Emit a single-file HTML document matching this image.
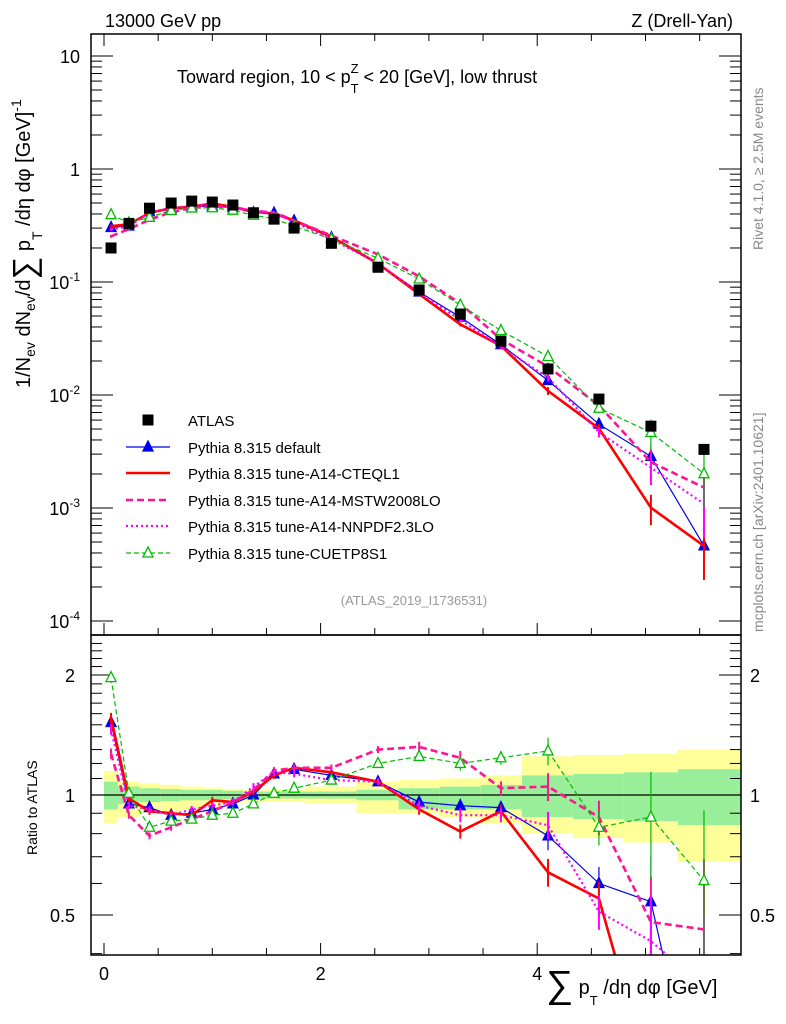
<!DOCTYPE html>
<html><head><meta charset="utf-8"><style>
html,body{margin:0;background:#fff;overflow:hidden;width:786px;height:1024px}
svg{display:block;overflow:hidden;font-family:"Liberation Sans",sans-serif}
</style></head><body>
<svg id="c" width="786" height="1024" viewBox="0 0 786 1024" overflow="hidden">
<defs>
<clipPath id="cm"><rect x="91" y="34" width="650" height="601"/></clipPath>
<clipPath id="cr"><rect x="91" y="635" width="650" height="320"/></clipPath>
</defs>
<g id="bands" clip-path="url(#cr)"></g>
<g id="grid"></g>
<g id="mainSeries" clip-path="url(#cm)"></g>
<g id="ratioSeries" clip-path="url(#cr)"></g>
<rect x="91" y="34" width="650" height="601" fill="none" stroke="#000" stroke-width="1.5"/>
<rect x="91" y="635" width="650" height="320" fill="none" stroke="#000" stroke-width="1.5"/>
<text x="105" y="27" font-size="18">13000 GeV pp</text>
<text x="733" y="27" font-size="18" text-anchor="end">Z (Drell-Yan)</text>
<text x="177" y="83" font-size="18">Toward region, 10 &lt; p<tspan font-size="13" dy="10">T</tspan><tspan font-size="13" dx="-8" dy="-20">Z</tspan><tspan dy="10"> &lt; 20 [GeV], low thrust</tspan></text>
<text x="414" y="605" font-size="13" fill="#999" text-anchor="middle">(ATLAS_2019_I1736531)</text>
<text transform="translate(763,250) rotate(-90)" font-size="14" fill="#888">Rivet 4.1.0, ≥ 2.5M events</text>
<text transform="translate(763,632) rotate(-90)" font-size="14" fill="#888">mcplots.cern.ch [arXiv:2401.10621]</text>
<text transform="translate(30,388) rotate(-90)" font-size="20">1/N<tspan font-size="14" dy="5">ev</tspan><tspan dy="-5"> dN</tspan><tspan font-size="14" dy="5">ev</tspan><tspan dy="-5">/d</tspan><tspan font-size="32" dy="5">∑</tspan><tspan dy="-5"> p</tspan><tspan font-size="14" dy="12">T</tspan><tspan dy="-12"> /dη dφ  [GeV]</tspan><tspan font-size="14" dy="-9">-1</tspan></text>
<text transform="translate(37,855) rotate(-90)" font-size="14">Ratio to ATLAS</text>
<text x="546" y="994" font-size="20"><tspan font-size="38" dy="3">∑</tspan><tspan dy="-3"> p</tspan><tspan font-size="13" dy="11">T</tspan><tspan dy="-11"> /dη dφ [GeV]</tspan></text>
<g id="legend"></g>
</svg>
<script>
const xVals=[0.065,0.23,0.42,0.62,0.81,1.0,1.19,1.38,1.57,1.755,2.1,2.53,2.91,3.29,3.665,4.1,4.57,5.05,5.54];
const binEdges=[0,0.13,0.33,0.52,0.71,0.9,1.1,1.29,1.48,1.67,1.86,2.33,2.72,3.1,3.48,3.86,4.33,4.8,5.3,5.88];
const atlas=[0.2,0.33,0.45,0.5,0.52,0.51,0.48,0.41,0.36,0.30,0.22,0.135,0.085,0.052,0.03,0.017,0.0092,0.0053,0.0033];
const statUp=[0.08,0.05,0.04,0.035,0.03,0.03,0.025,0.02,0.02,0.02,0.02,0.03,0.04,0.05,0.06,0.12,0.13,0.14,0.16];
const statDn=[0.08,0.05,0.04,0.035,0.03,0.03,0.025,0.02,0.02,0.02,0.02,0.03,0.08,0.08,0.08,0.12,0.13,0.14,0.16];
const totUp=[0.15,0.08,0.07,0.06,0.05,0.04,0.035,0.03,0.03,0.03,0.05,0.08,0.09,0.10,0.12,0.25,0.26,0.27,0.30];
const totDn=[0.15,0.12,0.1,0.09,0.08,0.07,0.05,0.04,0.04,0.04,0.05,0.1,0.1,0.12,0.15,0.2,0.22,0.24,0.32];
const rDefault=[1.52,0.95,0.93,0.89,0.90,0.92,0.95,1.0,1.13,1.16,1.12,1.08,0.96,0.94,0.93,0.79,0.60,0.54,0.14];
const rCTEQ=[1.56,0.98,0.91,0.90,0.89,0.97,0.96,1.02,1.12,1.17,1.14,1.08,0.92,0.81,0.91,0.64,0.55,0.19,0.14];
const rMSTW=[1.27,0.89,0.79,0.83,0.87,0.91,0.96,1.03,1.15,1.17,1.17,1.30,1.32,1.24,1.04,1.05,0.88,0.48,0.46];
const rNNPDF=[1.46,0.94,0.92,0.89,0.92,0.94,0.96,1.05,1.14,1.13,1.09,1.08,0.94,0.89,0.89,0.84,0.51,0.43,0.33];
const rCUETP=[1.97,1.01,0.83,0.86,0.87,0.89,0.90,0.95,1.01,1.04,1.09,1.20,1.25,1.20,1.24,1.29,0.83,0.88,0.61];
const relErr=[0.03,0.02,0.02,0.02,0.02,0.02,0.02,0.02,0.02,0.02,0.02,0.02,0.03,0.04,0.04,0.08,0.1,0.3,0.5];
const NS="http://www.w3.org/2000/svg";
const X=v=>104+108.3*v;
const YM=v=>169-113*Math.log10(v);
const YR=r=>795-120*Math.log2(r);
const cl=(y,a,b)=>Math.max(a,Math.min(b,y));
function mk(tag,attrs,parent){const e=document.createElementNS(NS,tag);for(const k in attrs)e.setAttribute(k,attrs[k]);parent.appendChild(e);return e;}
// clip polyline points to y<=ymax, returns array of point strings
function clipPts(pts,ymax){
 const out=[];
 for(let i=0;i<pts.length;i++){
  const [x,y]=pts[i];
  if(y<=ymax){
   if(i>0&&pts[i-1][1]>ymax){const [px,py]=pts[i-1];const t=(py-ymax)/(py-y);out.push([px+(x-px)*t,ymax]);}
   out.push([x,y]);
  }else if(i>0&&pts[i-1][1]<=ymax){
   const [px,py]=pts[i-1];const t=(ymax-py)/(y-py);out.push([px+(x-px)*t,ymax]);
   break;
  }
 }
 return out.map(p=>p[0].toFixed(1)+','+p[1].toFixed(1)).join(' ');
}
const g=document.getElementById('grid'),bands=document.getElementById('bands'),ms=document.getElementById('mainSeries'),rs=document.getElementById('ratioSeries'),lg=document.getElementById('legend');
for(let i=0;i<atlas.length;i++){
 const x0=X(binEdges[i]),x1=X(binEdges[i+1]);
 let r=mk('rect',{x:x0,y:YR(1+totUp[i]),width:x1-x0,height:YR(1-totDn[i])-YR(1+totUp[i]),fill:'#ffff99'},bands);
 
 
 r=mk('rect',{x:x0,y:YR(1+statUp[i]),width:x1-x0,height:YR(1-statDn[i])-YR(1+statUp[i]),fill:'#99ee99'},bands);
 
 
}
mk('line',{x1:91,x2:741,y1:YR(1),y2:YR(1),stroke:'#000','stroke-width':1.2},bands);
for(let v=0;v<=5.85;v+=0.5){
 const big=Math.abs(v%2)<1e-6;const L=big?12:7;
 for(const yb of [635,955]){mk('line',{x1:X(v),x2:X(v),y1:yb,y2:yb-L,stroke:'#000'},g);}
 mk('line',{x1:X(v),x2:X(v),y1:34,y2:34+L,stroke:'#000'},g);
 if(big){const t=mk('text',{x:X(v),y:980,'font-size':18,'text-anchor':'middle'},g);t.textContent=v;
 
 }
}
const decLabels=['10<tspan font-size="12" dy="-8">-4</tspan>','10<tspan font-size="12" dy="-8">-3</tspan>','10<tspan font-size="12" dy="-8">-2</tspan>','10<tspan font-size="12" dy="-8">-1</tspan>','1','10'];
for(let d=-4;d<=1;d++){
 for(let m=1;m<10;m++){const v=m*Math.pow(10,d);const y=YM(v);if(y<34||y>635)continue;const L=m==1?22:11;
  mk('line',{x1:91,x2:91+L,y1:y,y2:y,stroke:'#000'},g);mk('line',{x1:741,x2:741-L,y1:y,y2:y,stroke:'#000'},g);}
 const t=mk('text',{x:80,y:YM(Math.pow(10,d))+7,'font-size':18,'text-anchor':'end'},g);t.innerHTML=decLabels[d+4];
 
 
}
for(let r=0.4;r<=2.5;r+=0.1){const y=YR(r);if(y<635||y>955)continue;const big=[0.5,1,2].some(q=>Math.abs(q-r)<1e-6);const L=big?22:11;
 mk('line',{x1:91,x2:91+L,y1:y,y2:y,stroke:'#000'},g);mk('line',{x1:741,x2:741-L,y1:y,y2:y,stroke:'#000'},g);}
for(const r of [0.5,1,2]){
 let t=mk('text',{x:75,y:YR(r)+7,'font-size':18,'text-anchor':'end'},g);t.textContent=r;
 
 
 t=mk('text',{x:750,y:YR(r)+7,'font-size':18},g);t.textContent=r;
 
 
}
const series=[
 {name:'Pythia 8.315 default',r:rDefault,c:'#0000ee',w:1.2,dash:'',mark:'tri-fill'},
 {name:'Pythia 8.315 tune-A14-CTEQL1',r:rCTEQ,c:'#ff0000',w:2.6,dash:'',mark:'none'},
 {name:'Pythia 8.315 tune-A14-MSTW2008LO',r:rMSTW,c:'#ff1493',w:2.6,dash:'7,4',mark:'none'},
 {name:'Pythia 8.315 tune-A14-NNPDF2.3LO',r:rNNPDF,c:'#ff00ff',w:2.2,dash:'2,3',mark:'none'},
 {name:'Pythia 8.315 tune-CUETP8S1',r:rCUETP,c:'#00bb00',w:1.2,dash:'5,3',mark:'tri-open'}
];
function tri(par,x,y,c,fill){return mk('path',{d:`M${x-5},${y+4}L${x+5},${y+4}L${x},${y-6}Z`,fill:fill?c:'#fff',stroke:c,'stroke-width':1.3},par);}
series.forEach((s,si)=>{
 const mv=s.r.map((r,i)=>r*atlas[i]);
 const pm=mk('polyline',{points:clipPts(mv.map((v,i)=>[X(xVals[i]),YM(v)]),635),fill:'none',stroke:s.c,'stroke-width':s.w,'stroke-dasharray':s.dash},ms);
 
 
 const pr=mk('polyline',{points:clipPts(s.r.map((r,i)=>[X(xVals[i]),YR(r)]),955),fill:'none',stroke:s.c,'stroke-width':s.w,'stroke-dasharray':s.dash},rs);
 
 
 mv.forEach((v,i)=>{
  const x=X(xVals[i]),e=relErr[i];
  mk('line',{x1:x,x2:x,y1:cl(YM(v*(1+e)),34,635),y2:cl(YM(Math.max(v*(1-e),1e-6)),34,635),stroke:s.c,'stroke-width':Math.min(s.w,2)},ms);
  const ry1=cl(YR(s.r[i]*(1+e)),635,955),ry2=cl(YR(Math.max(s.r[i]*(1-e),0.01)),635,955);
  if(ry2>ry1)mk('line',{x1:x,x2:x,y1:ry1,y2:ry2,stroke:s.c,'stroke-width':Math.min(s.w,2)},rs);
  if(s.mark!=='none'){
   let t=tri(ms,x,YM(v),s.c,s.mark==='tri-fill');
   
   
   if(YR(s.r[i])<950){
   t=tri(rs,x,YR(s.r[i]),s.c,s.mark==='tri-fill');
   
   
   }
  }
 });
});
atlas.forEach((v,i)=>{
 const r=mk('rect',{x:X(xVals[i])-5.5,y:YM(v)-5.5,width:11,height:11,fill:'#000'},ms);
 
 
});
const ly=[420,447,473,500,526,553];
let e=mk('rect',{x:142.5,y:ly[0]-5.5,width:11,height:11,fill:'#000'},lg);


e=mk('text',{x:188,y:ly[0]+6,'font-size':15},lg);e.textContent='ATLAS';


series.forEach((s,si)=>{
 const y=ly[si+1];
 mk('line',{x1:126,x2:170,y1:y,y2:y,stroke:s.c,'stroke-width':s.w,'stroke-dasharray':s.dash},lg);
 if(s.mark!=='none')tri(lg,148,y,s.c,s.mark==='tri-fill');
 const t=mk('text',{x:188,y:y+6,'font-size':15},lg);t.textContent=s.name;
 
 
});
</script>
</body></html>
